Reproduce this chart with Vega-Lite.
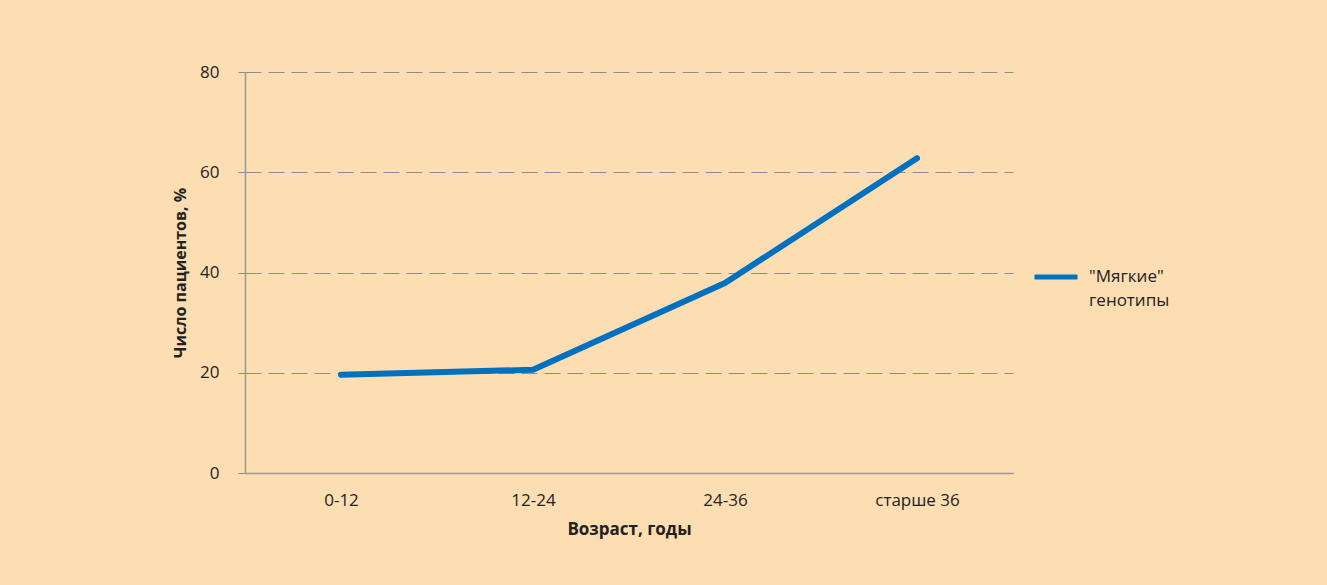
{
  "$schema": "https://vega.github.io/schema/vega-lite/v6.json",
  "width": 768,
  "height": 401,
  "autosize": "none",
  "padding": {"left": 245, "top": 72, "right": 314, "bottom": 112},
  "background": "#FDDEB2",
  "config": {
    "view": {"stroke": null},
    "font": "Open Sans",
    "style": {"guide-label": {"lineHeight": 24}}
  },
  "data": {
    "values": [
      {"age": "0-12", "value": 19.6, "series": "\"Мягкие\"|генотипы"},
      {"age": "12-24", "value": 20.6, "series": "\"Мягкие\"|генотипы"},
      {"age": "24-36", "value": 37.9, "series": "\"Мягкие\"|генотипы"},
      {"age": "старше 36", "value": 62.8, "series": "\"Мягкие\"|генотипы"}
    ]
  },
  "mark": {"type": "line", "strokeWidth": 6, "strokeCap": "round", "strokeJoin": "round"},
  "encoding": {
    "x": {
      "field": "age",
      "type": "ordinal",
      "sort": null,
      "scale": {"type": "point", "padding": 0.5},
      "axis": {
        "title": "Возраст, годы",
        "titleFontWeight": "bold",
        "titleFontSize": 17,
        "titleColor": "#222222",
        "titlePadding": 13,
        "labelFontSize": 17,
        "labelColor": "#222222",
        "labelAngle": 0,
        "labelPadding": 19,
        "ticks": false,
        "grid": false,
        "domainColor": "#999999",
        "domainWidth": 1.5
      }
    },
    "y": {
      "field": "value",
      "type": "quantitative",
      "scale": {"domain": [0, 80], "nice": false},
      "axis": {
        "title": "Число пациентов, %",
        "titleFontWeight": "bold",
        "titleFontSize": 16,
        "titleColor": "#222222",
        "titlePadding": 11,
        "values": [0, 20, 40, 60, 80],
        "labelFontSize": 17,
        "labelColor": "#222222",
        "labelPadding": 19,
        "tickSize": 7,
        "tickColor": "#8c8c8c",
        "domainColor": "#999999",
        "domainWidth": 1.5,
        "gridColor": "#8c8c8c",
        "gridDash": [16, 7],
        "gridWidth": 1
      }
    },
    "color": {
      "field": "series",
      "type": "nominal",
      "scale": {"range": ["#0070C0"]},
      "legend": {
        "title": null,
        "orient": "none",
        "legendX": 787,
        "legendY": 181,
        "symbolType": "stroke",
        "symbolSize": 1849,
        "symbolStrokeWidth": 5,
        "labelFontSize": 17,
        "labelColor": "#222222",
        "labelOffset": 9,
        "labelBaseline": "middle",
        "labelExpr": "split(datum.label, '|')"
      }
    }
  }
}
